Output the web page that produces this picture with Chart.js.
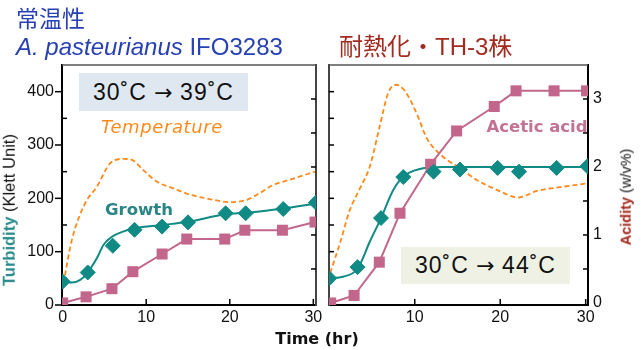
<!DOCTYPE html>
<html><head><meta charset="utf-8">
<script src="https://cdn.jsdelivr.net/npm/chart.js@4.4.1/dist/chart.umd.min.js"></script>
<style>
html,body{margin:0;padding:0;background:#fff;}
#wrap{position:relative;width:644px;height:350px;overflow:hidden;background:#fff;}
canvas{position:absolute;left:0;top:0;}
.t{position:absolute;white-space:nowrap;line-height:1;transform:translate(-50%,-50%);}
.h{position:absolute;white-space:nowrap;line-height:1;font-family:"Liberation Sans","Noto Sans CJK JP",sans-serif;}
.box{position:absolute;display:flex;align-items:center;justify-content:center;font-family:"Liberation Sans","DejaVu Sans",sans-serif;font-size:23px;letter-spacing:1px;color:#111;white-space:pre;}
.arr{font-family:"DejaVu Sans";font-size:22px;letter-spacing:0;}
</style></head>
<body><div id="wrap">
<div class="box" style="left:79px;top:73px;width:169px;height:38px;background:#dfe7f0;">30˚C <span class="arr">→</span> 39˚C</div>
<div class="box" style="left:401px;top:247px;width:169px;height:37px;background:#eef1e3;">30˚C <span class="arr">→</span> 44˚C</div>
<canvas id="cL" width="644" height="350"></canvas>
<canvas id="cR" width="644" height="350"></canvas>
<div class="h" style="left:16px;top:8px;font-size:23px;color:#2740b4;">常温性</div>
<div class="h" style="left:16px;top:35px;font-size:24px;color:#2740b4;"><i>A. pasteurianus</i> IFO3283</div>
<div class="h" style="left:339px;top:35px;font-size:24px;color:#a32a1e;">耐熱化・TH-3株</div>
<div class="t" style="left:162px;top:127px;font-family:'DejaVu Sans';font-style:oblique;font-size:18px;letter-spacing:0.6px;color:#ff8a1c;">Temperature</div>
<div class="t" style="left:139px;top:210px;font-family:'DejaVu Sans';font-weight:bold;font-size:16.5px;color:#2a8585;">Growth</div>
<div class="t" style="left:537px;top:127px;font-family:'DejaVu Sans';font-weight:bold;font-size:16.5px;color:#c27394;">Acetic acid</div>
<div class="t" style="left:317px;top:339px;font-family:'DejaVu Sans';font-weight:bold;font-size:16px;color:#111;">Time (hr)</div>
<div class="t" style="left:9px;top:210px;transform:translate(-50%,-50%) rotate(-90deg);font-family:'Liberation Sans';font-size:16.5px;color:#111;"><b style="color:#2b8b8b">Turbidity</b> (Klett Unit)</div>
<div class="t" style="left:626px;top:197px;transform:translate(-50%,-50%) rotate(-90deg);font-family:'Liberation Sans';font-size:14.5px;color:#111;"><b style="color:#a32a1e">Acidity</b> (w/v%)</div>
</div>
<script>
// ---- data ----
// Left panel: A. pasteurianus IFO3283, 30°C -> 39°C
const growthTimeL = [0, 3, 6, 8.6, 11.9, 15, 19.5, 21.9, 26.4, 30.3];
const growthL     = [44, 61, 111, 141, 147, 155, 172, 172, 180, 192];
const growthFitTimeL = [0, 1.1, 2.1, 2.9, 4.1, 4.9, 5.9, 7.3, 8.6, 11.9, 15, 19.5, 22, 26.4, 30.3];
const growthFitL     = [44, 42, 47, 59, 88, 113, 128, 138, 144, 150, 156, 170, 173, 181, 190];
const acidTimeL = [0, 2.8, 5.9, 8.4, 11.9, 14.85, 19.4, 21.8, 26.3, 30.2];
const acidL     = [0, 0.09, 0.21, 0.46, 0.72, 0.94, 0.94, 1.07, 1.07, 1.19];
const tempTimeL = [0.1, 1.1, 2.7, 4.1, 5.7, 7.3, 8.3, 9.65, 11.3, 13.2, 15.2, 17.2, 20, 22, 23.6, 25.2, 27.2, 30.2];
const tempL     = [41, 122, 191, 222, 266, 274, 272, 253, 231, 219, 207, 200, 193, 197, 210, 225, 235, 250];
// Right panel: TH-3 strain, 30°C -> 44°C
const growthTimeR = [0, 3.3, 6.05, 8.66, 12.2, 15.3, 19.7, 22.2, 26.6, 30.2];
const growthR     = [50, 71, 163, 240, 250, 254, 257, 250, 257, 260];
const growthFitTimeR = [0, 1.6, 3.3, 4.75, 6.05, 7.5, 8.66, 10.6, 13.3, 30.2];
const growthFitR     = [50, 53, 68, 119, 163, 216, 241, 255, 258.6, 258.6];
const acidTimeR = [0.16, 2.9, 5.85, 8.27, 11.86, 14.9, 19.3, 21.85, 26.3, 30.1];
const acidR     = [0, 0.11, 0.6, 1.32, 2.04, 2.53, 2.89, 3.12, 3.12, 3.12];
const tempTimeR = [0.1, 1.25, 2.4, 3.6, 4.75, 5.9, 6.9, 7.8, 8.85, 10.2, 11.4, 13.3, 15.3, 17.2, 19.6, 22.1, 24.3, 26.6, 30.1];
const tempR     = [60, 116, 178, 219, 260, 335, 398, 413, 401, 360, 313, 278, 257, 235, 216, 201.5, 214, 220, 228];
// ticks
const timeTicksL = [0, 10, 20, 30];
const timeTicksR = [10, 20, 30];
const turbidityTicks = [0, 100, 200, 300, 400];
const turbidityMinorL = [50, 150, 250, 350];
const turbidityMinorR = [50, 100, 150, 200, 250, 300, 350, 400];
const acidityTicks = [0, 1, 2, 3];
const acidityMinor = [0.5, 1, 1.5, 2, 2.5, 3];

const TEAL = '#108a84', PINK = '#c2678b', ORANGE = '#ff8a1c';
const pts = (xs, ys) => xs.map((x, i) => ({x, y: ys[i]}));
const tickFont = {family: 'Liberation Sans', size: 16};

const edgeTicks = {
  id: 'edgeTicks',
  beforeDatasetsDraw(chart, args, opts) {
    const ctx = chart.ctx, a = chart.chartArea;
    ctx.save();
    ctx.strokeStyle = '#555'; ctx.lineWidth = 1.5;
    ctx.beginPath(); ctx.moveTo(a.left, a.top); ctx.lineTo(a.right, a.top); ctx.stroke();
    ctx.strokeStyle = '#000'; ctx.lineWidth = 1.5;
    for (const it of opts.items) {
      const s = chart.scales[it.scale];
      for (const v of it.values) {
        const p = s.getPixelForValue(v);
        ctx.beginPath();
        if (it.side === 'left') { ctx.moveTo(a.left, p); ctx.lineTo(a.left + it.len, p); }
        else if (it.side === 'right') { ctx.moveTo(a.right, p); ctx.lineTo(a.right - it.len, p); }
        else { ctx.moveTo(p, a.bottom); ctx.lineTo(p, a.bottom - it.len); }
        ctx.stroke();
      }
    }
    ctx.restore();
  }
};

function datasets(gT, g, fT, f, aT, a, tT, t) {
  return [
    {data: pts(gT, g), yAxisID: 'y', showLine: false, pointStyle: 'rectRot', pointRadius: 7.5,
     backgroundColor: TEAL, borderColor: TEAL, borderWidth: 1},
    {data: pts(aT, a), yAxisID: 'y2', borderColor: PINK, borderWidth: 2, tension: 0,
     pointStyle: 'rect', pointRadius: 7.8, pointBackgroundColor: PINK, pointBorderColor: PINK, pointBorderWidth: 0},
    {data: pts(fT, f), yAxisID: 'y', borderColor: TEAL, borderWidth: 2, pointRadius: 0, cubicInterpolationMode: 'monotone'},
    {data: pts(tT, t), yAxisID: 'y', borderColor: ORANGE, borderWidth: 1.8, borderDash: [5, 3], pointRadius: 0, cubicInterpolationMode: 'monotone'}
  ];
}
const setTicks = arr => s => { s.ticks = arr.map(v => ({value: v})); };
const noGrid = {display: false, drawTicks: false};

function makeChart(id, cfg) {
  return new Chart(document.getElementById(id), {
    type: 'line',
    data: {datasets: cfg.datasets},
    options: {
      responsive: false, animation: false, devicePixelRatio: 1,
      layout: {padding: cfg.padding},
      plugins: {legend: {display: false}, tooltip: {enabled: false}, edgeTicks: {items: cfg.items}},
      scales: cfg.scales
    },
    plugins: [edgeTicks]
  });
}

makeChart('cL', {
  datasets: datasets(growthTimeL, growthL, growthFitTimeL, growthFitL, acidTimeL, acidL, tempTimeL, tempL),
  padding: {left: 0, top: 65, right: 328, bottom: 0},
  items: [
    {scale: 'y', side: 'left', values: turbidityTicks, len: -7},
    {scale: 'y', side: 'left', values: turbidityMinorL, len: 5},
    {scale: 'y2', side: 'right', values: acidityMinor, len: 5},
    {scale: 'x', side: 'bottom', values: timeTicksL.slice(1), len: 6}
  ],
  scales: {
    x: {type: 'linear', position: 'bottom', min: -0.08, max: 30.32, afterBuildTicks: setTicks(timeTicksL),
        afterFit: s => { s.height = 45; }, grid: noGrid, border: {display: true, color: '#000', width: 2},
        ticks: {font: tickFont, color: '#111', padding: 3, maxRotation: 0, autoSkip: false}},
    y: {type: 'linear', position: 'left', min: 0, max: 450, afterBuildTicks: setTicks(turbidityTicks),
        afterFit: s => { s.width = 62; }, grid: noGrid, border: {display: true, color: '#000', width: 2},
        ticks: {font: tickFont, color: '#111', padding: 8, autoSkip: false}},
    y2: {type: 'linear', position: 'right', min: -0.03, max: 3.5, afterFit: s => { s.width = 0; },
        grid: noGrid, border: {display: true, color: '#444', width: 2}, ticks: {display: false}}
  }
});

makeChart('cR', {
  datasets: datasets(growthTimeR, growthR, growthFitTimeR, growthFitR, acidTimeR, acidR, tempTimeR, tempR),
  padding: {left: 329, top: 65, right: 0, bottom: 0},
  items: [
    {scale: 'y', side: 'left', values: turbidityMinorR, len: 5},
    {scale: 'y2', side: 'right', values: acidityMinor, len: 5},
    {scale: 'x', side: 'bottom', values: timeTicksR, len: 6}
  ],
  scales: {
    x: {type: 'linear', position: 'bottom', min: -0.035, max: 30.27, afterBuildTicks: setTicks(timeTicksR),
        afterFit: s => { s.height = 45; }, grid: noGrid, border: {display: true, color: '#000', width: 2},
        ticks: {font: tickFont, color: '#111', padding: 3, maxRotation: 0, autoSkip: false}},
    y: {type: 'linear', position: 'left', min: 0, max: 450, afterFit: s => { s.width = 0; },
        grid: noGrid, border: {display: true, color: '#444', width: 2}, ticks: {display: false}},
    y2: {type: 'linear', position: 'right', min: -0.03, max: 3.5, afterBuildTicks: setTicks(acidityTicks),
        afterFit: s => { s.width = 56; }, grid: noGrid, border: {display: true, color: '#000', width: 2},
        ticks: {font: tickFont, color: '#111', padding: 5, autoSkip: false}}
  }
});
</script>
</body></html>
